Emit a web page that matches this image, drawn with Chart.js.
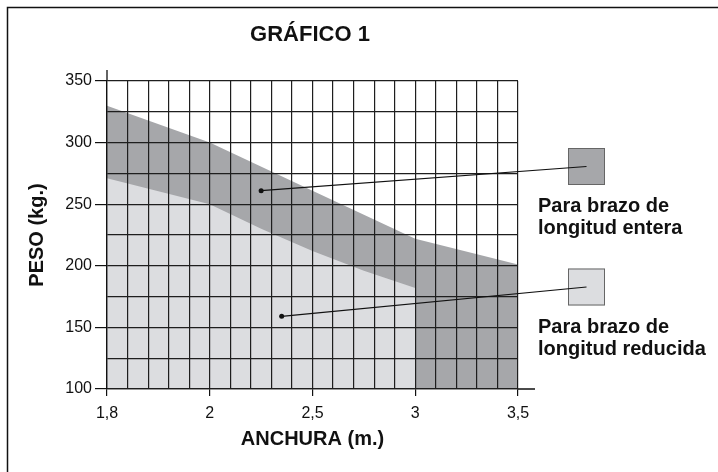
<!DOCTYPE html>
<html lang="es">
<head>
<meta charset="utf-8">
<title>Gráfico 1</title>
<script src="https://cdn.jsdelivr.net/npm/chart.js@4.4.1/dist/chart.umd.min.js"></script>
<style>
    html, body { margin: 0; padding: 0; background: #fff; }
</style>
</head>
<body>
<canvas id="grafico" width="718" height="472"></canvas>
<script>
// Gráfico 1: peso de la hoja según su anchura

const marcasAnchura = [1.8, 2, 2.5, 3, 3.5];
const etiquetasAnchura = ['1,8', '2', '2,5', '3', '3,5'];

// borde superior de la zona oscura (brazo de longitud entera)
const anchuraEntera = [1.8, 2, 2.5, 3, 3.5];
const pesoEntera = [330, 300, 261, 222, 201];

// borde superior de la zona clara (brazo de longitud reducida)
const anchuraReducida = [1.8, 2, 2.25, 2.5, 2.75, 3];
const pesoReducida = [271, 250, 230, 212, 196, 182];

// punto de donde sale cada línea hacia la leyenda
const flechaAnchura = [2.25, 2.35];
const flechaPeso = [261, 159];
const textosLeyenda = [['Para brazo de', 'longitud entera'], ['Para brazo de', 'longitud reducida']];

const colorOscuro = '#a6a7aa';
const colorClaro = '#dcdde0';
const fuente = '"Liberation Sans", Arial, Helvetica, sans-serif';

// el eje x no es lineal: cada tramo entre marcas ocupa lo mismo
function posEje(w) {
    for (let i = 0; i < marcasAnchura.length - 1; i++) {
        const a = marcasAnchura[i], b = marcasAnchura[i + 1];
        if (w <= b || i === marcasAnchura.length - 2) {
            return i + (w - a) / (b - a);
        }
    }
}

function esEntero(v) {
    return Math.abs(v - Math.round(v)) < 1e-6;
}

const decoracion = {
    id: 'decoracion',
    beforeDraw(chart) {
        const ctx = chart.ctx;
        ctx.save();
        ctx.fillStyle = '#fff';
        ctx.fillRect(0, 0, chart.width, chart.height);
        // marco
        ctx.strokeStyle = '#111';
        ctx.lineWidth = 1.5;
        ctx.beginPath();
        ctx.moveTo(7.5, chart.height + 2);
        ctx.lineTo(7.5, 7.5);
        ctx.lineTo(chart.width + 2, 7.5);
        ctx.stroke();
        ctx.restore();
    },
    afterDraw(chart) {
        const ctx = chart.ctx;
        const area = chart.chartArea;
        const x = chart.scales.x, y = chart.scales.y;
        ctx.save();

        // prolongación de los ejes
        ctx.strokeStyle = '#111';
        ctx.lineWidth = 1.3;
        ctx.beginPath();
        ctx.moveTo(area.left, area.top - 11);
        ctx.lineTo(area.left, area.top);
        ctx.moveTo(area.right, area.bottom);
        ctx.lineTo(area.right + 17, area.bottom);
        ctx.stroke();

        // título
        ctx.fillStyle = '#111';
        ctx.font = 'bold 22px ' + fuente;
        ctx.textAlign = 'center';
        ctx.textBaseline = 'alphabetic';
        ctx.fillText('GRÁFICO 1', 310, 41);

        // leyenda
        const cuadros = [148, 268.5];
        const colores = [colorOscuro, colorClaro];
        const lineasBase = [[212, 234], [333, 355]];
        for (let i = 0; i < 2; i++) {
            ctx.fillStyle = colores[i];
            ctx.fillRect(568, cuadros[i], 37, 37);
            ctx.strokeStyle = '#666';
            ctx.lineWidth = 1;
            ctx.strokeRect(568.5, cuadros[i] + 0.5, 36, 36);

            const px = x.getPixelForValue(posEje(flechaAnchura[i]));
            const py = y.getPixelForValue(flechaPeso[i]);
            ctx.strokeStyle = '#111';
            ctx.lineWidth = 1.2;
            ctx.beginPath();
            ctx.moveTo(px, py);
            ctx.lineTo(586.5, cuadros[i] + 18.5);
            ctx.stroke();
            ctx.fillStyle = '#111';
            ctx.beginPath();
            ctx.arc(px, py, 2.5, 0, Math.PI * 2);
            ctx.fill();

            ctx.font = 'bold 20px ' + fuente;
            ctx.textAlign = 'left';
            ctx.fillText(textosLeyenda[i][0], 538, lineasBase[i][0]);
            ctx.fillText(textosLeyenda[i][1], 538, lineasBase[i][1]);
        }
        ctx.restore();
    }
};

const ctx = document.getElementById('grafico').getContext('2d');
const chart = new Chart(ctx, {
    type: 'line',
    data: {
        datasets: [{
            label: 'Para brazo de longitud reducida',
            data: anchuraReducida.map((w, i) => ({ x: posEje(w), y: pesoReducida[i] })),
            backgroundColor: colorClaro,
            borderColor: 'rgba(0,0,0,0)',
            borderWidth: 0,
            pointRadius: 0,
            fill: 'start'
        }, {
            label: 'Para brazo de longitud entera',
            data: anchuraEntera.map((w, i) => ({ x: posEje(w), y: pesoEntera[i] })),
            backgroundColor: colorOscuro,
            borderColor: 'rgba(0,0,0,0)',
            borderWidth: 0,
            pointRadius: 0,
            fill: 'start'
        }]
    },
    options: {
        responsive: false,
        animation: false,
        layout: { padding: { top: 81, right: 200, bottom: 0, left: 0 } },
        plugins: {
            legend: { display: false },
            tooltip: { enabled: false }
        },
        scales: {
            x: {
                type: 'linear',
                min: 0,
                max: marcasAnchura.length - 1,
                afterFit: (scale) => { scale.height = 83; },
                border: { color: '#111', width: 1.3, z: 1 },
                grid: {
                    z: 1,
                    color: '#1e1e1e',
                    lineWidth: 1.2,
                    tickLength: 7,
                    tickColor: (c) => (c.tick && esEntero(c.tick.value)) ? '#111' : 'rgba(0,0,0,0)'
                },
                ticks: {
                    stepSize: 0.2,
                    autoSkip: false,
                    maxRotation: 0,
                    padding: 8,
                    color: '#111',
                    font: { family: fuente, size: 16 },
                    callback: (v) => esEntero(v) ? etiquetasAnchura[Math.round(v)] : ''
                },
                title: {
                    display: true,
                    text: 'ANCHURA (m.)',
                    color: '#111',
                    font: { family: fuente, size: 20, weight: 'bold' },
                    padding: { top: 0, bottom: 21 }
                }
            },
            y: {
                min: 100,
                max: 350,
                afterFit: (scale) => { scale.width = 107; },
                border: { color: '#111', width: 1.3, z: 1 },
                grid: {
                    z: 1,
                    color: '#1e1e1e',
                    lineWidth: 1.2,
                    tickLength: 12,
                    tickColor: (c) => (c.tick && c.tick.value % 50 === 0) ? '#111' : 'rgba(0,0,0,0)'
                },
                ticks: {
                    stepSize: 25,
                    autoSkip: false,
                    padding: 3,
                    color: '#111',
                    font: { family: fuente, size: 16 },
                    callback: (v) => v % 50 === 0 ? v : ''
                },
                title: {
                    display: true,
                    text: 'PESO (kg.)',
                    color: '#111',
                    font: { family: fuente, size: 20, weight: 'bold' },
                    padding: { top: 25, bottom: 0 }
                }
            }
        }
    },
    plugins: [decoracion]
});
</script>
</body>
</html>
